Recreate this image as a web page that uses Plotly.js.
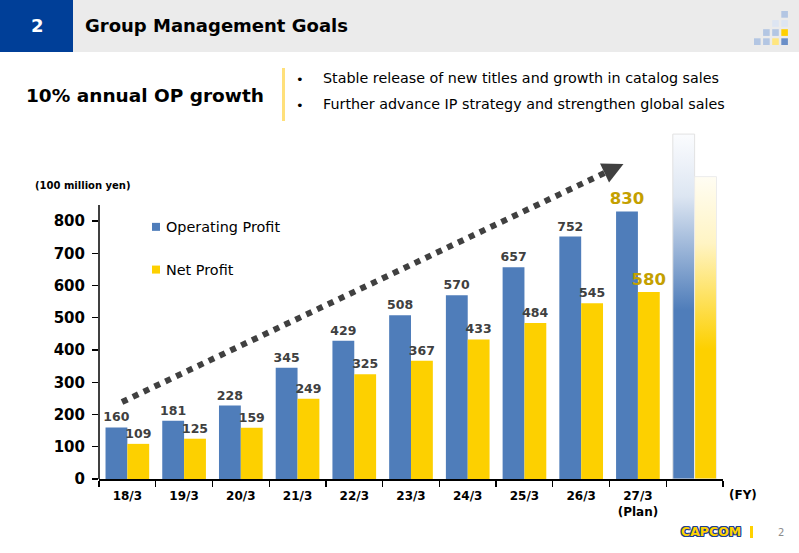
<!DOCTYPE html>
<html>
<head>
<meta charset="utf-8">
<script src="https://cdn.plot.ly/plotly-3.0.1.min.js"></script>
<style>
  html, body { margin: 0; padding: 0; background: #ffffff; }
  #chart { width: 799px; height: 553px; }
</style>
</head>
<body>
<!-- fades used for the outlook column -->
<svg width="0" height="0" style="position:absolute">
  <defs>
    <linearGradient id="fadeBlue" x1="0" y1="0" x2="0" y2="1">
      <stop offset="0" stop-color="#fbfcfe"/>
      <stop offset="0.18" stop-color="#dde6f2"/>
      <stop offset="0.51" stop-color="#4f7dba"/>
      <stop offset="1" stop-color="#4f7dba"/>
    </linearGradient>
    <linearGradient id="fadeYellow" x1="0" y1="0" x2="0" y2="1">
      <stop offset="0" stop-color="#fffdf3"/>
      <stop offset="0.22" stop-color="#fff4c4"/>
      <stop offset="0.57" stop-color="#fdd000"/>
      <stop offset="1" stop-color="#fdd000"/>
    </linearGradient>
  </defs>
</svg>
<div id="chart"></div>
<script>
// Fiscal years (March year-end); the last column is the unlabeled outlook bar
const categories = ['18/3', '19/3', '20/3', '21/3', '22/3', '23/3', '24/3', '25/3', '26/3', '27/3<br>(Plan)'];
const outlookCategory = [' '];
const operatingProfit = [160, 181, 228, 345, 429, 508, 570, 657, 752, 830];
const netProfit = [109, 125, 159, 249, 325, 367, 433, 484, 545, 580];
const outlookOperating = [1070];
const outlookNet = [938];
const yTicks = [0, 100, 200, 300, 400, 500, 600, 700, 800];
const yAxisTop = 850;

const FONT = '"DejaVu Sans", Verdana, sans-serif';
const BLUE = '#4f7dba';
const YELLOW = '#fdd000';
const LABEL = '#404040';
const GOLD = '#c4a000';

// plot area in page pixels; the visible axis stops at yAxisTop (page y 205),
// the area above it leaves room for the outlook column
const M = { l: 99, r: 76, t: 128, b: 74 };
const W = 799, H = 553;
const PW = W - M.l - M.r, PH = H - M.t - M.b;
const AXIS_TOP_PX = 205;
const yRangeTop = yAxisTop * PH / (H - M.b - AXIS_TOP_PX);
const X = px => (px - M.l) / PW;
const Y = py => (H - M.b - py) / PH;

const lastIdx = categories.length - 1;
const labelColors = categories.map((c, i) => i === lastIdx ? GOLD : LABEL);
const labelSizes = categories.map((c, i) => i === lastIdx ? 16.5 : 12.5);

const data = [
  {
    type: 'bar', name: 'Operating Profit', x: categories, y: operatingProfit,
    offsetgroup: 'op', legendgroup: 'op',
    marker: { color: BLUE, line: { width: 0 } },
    texttemplate: '%{y}', textposition: 'outside', cliponaxis: false,
    constraintext: 'none',
    textfont: { family: FONT, size: labelSizes, color: labelColors, weight: 'bold' }
  },
  {
    type: 'bar', name: 'Net Profit', x: categories, y: netProfit,
    offsetgroup: 'np', legendgroup: 'np',
    marker: { color: YELLOW, line: { width: 0 } },
    texttemplate: '%{y}', textposition: 'outside', cliponaxis: false,
    constraintext: 'none',
    textfont: { family: FONT, size: labelSizes, color: labelColors, weight: 'bold' }
  },
  {
    type: 'bar', name: 'outlook-op', x: outlookCategory, y: outlookOperating,
    offsetgroup: 'op', showlegend: false, hoverinfo: 'skip',
    marker: { color: BLUE, line: { width: 1, color: '#e2e2e2' } }
  },
  {
    type: 'bar', name: 'outlook-np', x: outlookCategory, y: outlookNet,
    offsetgroup: 'np', showlegend: false, hoverinfo: 'skip',
    marker: { color: YELLOW, line: { width: 1, color: '#ececec' } }
  }
];

const paperText = (text, px, py, opts) => Object.assign({
  text: text, xref: 'paper', yref: 'paper', x: X(px), y: Y(py),
  xanchor: 'left', yanchor: 'middle', showarrow: false,
  font: { family: FONT, size: 14, color: '#000000' }
}, opts || {});

const annotations = [
  paperText('2', 37, 26, { xanchor: 'center', font: { family: FONT, size: 18, color: '#ffffff', weight: 'bold' } }),
  paperText('Group Management Goals', 83, 26, { font: { family: FONT, size: 18, color: '#000000', weight: 'bold' } }),
  paperText('10% annual OP growth', 24, 96, { font: { family: FONT, size: 18.5, color: '#000000', weight: 'bold' } }),
  paperText('•', 300, 79, { xanchor: 'center', font: { family: FONT, size: 13, color: '#000000' } }),
  paperText('•', 300, 105, { xanchor: 'center', font: { family: FONT, size: 13, color: '#000000' } }),
  paperText('Stable release of new titles and growth in catalog sales', 321, 78, { font: { family: FONT, size: 14.3, color: '#000000' } }),
  paperText('Further advance IP strategy and strengthen global sales', 321, 104, { font: { family: FONT, size: 14.3, color: '#000000' } }),
  paperText('(100 million yen)', 33, 185, { font: { family: FONT, size: 10, color: '#000000', weight: 'bold' } }),
  paperText('(FY)', 743, 495, { xanchor: 'center', font: { family: FONT, size: 12, color: '#000000', weight: 'bold' } }),
  paperText('CAPCOM', 711, 531, {
    xanchor: 'center',
    font: {
      family: FONT, size: 12.5, color: '#ffd200', weight: 'bold',
      shadow: '1px 0 0 #1d3f91, -1px 0 0 #1d3f91, 0 1px 0 #1d3f91, 0 -1px 0 #1d3f91, 1px 1px 0 #1d3f91, -1px -1px 0 #1d3f91, 1px -1px 0 #1d3f91, -1px 1px 0 #1d3f91'
    }
  }),
  paperText('2', 781, 532, { xanchor: 'center', font: { family: FONT, size: 10, color: '#8c8c8c' } })
];

const rect = (x0, y0, x1, y1, color) => ({
  type: 'rect', xref: 'paper', yref: 'paper', layer: 'below',
  x0: X(x0), x1: X(x1), y0: Y(y0), y1: Y(y1),
  fillcolor: color, line: { width: 0 }
});

// header band and decorative square grid
const shapes = [
  rect(0, 0, W, 52, '#ebebeb'),
  rect(0, 0, 73, 52, '#003f98'),
  rect(282, 68, 285, 121, '#ffe07a'),
  rect(750, 526, 753, 538, '#ffd200')
];
const sq = [
  [3, 0, '#b3c6e3'],
  [2, 1, '#dde5f2'], [3, 1, '#dde5f2'],
  [1, 2, '#b3c6e3'], [2, 2, '#b3c6e3'], [3, 2, '#ffd000'],
  [0, 3, '#b3c6e3'], [1, 3, '#b3c6e3'], [2, 3, '#ffe680'], [3, 3, '#6a8fc8']
];
sq.forEach(([c, r, col]) => {
  const x0 = 754 + c * 9.1, y0 = 11 + r * 9.1;
  shapes.push(rect(x0, y0, x0 + 6.6, y0 + 6.7, col));
});

// value axis line, stopping at the top of the labelled scale
shapes.push({
  type: 'line', xref: 'paper', yref: 'y', x0: 0, x1: 0, y0: 0, y1: yAxisTop,
  line: { color: '#000000', width: 1.5 }
});

// dotted growth arrow with a solid head
const tip = [623.5, 164];
const start = [122, 402];
const dx = tip[0] - start[0], dy = tip[1] - start[1];
const len = Math.hypot(dx, dy);
const ux = dx / len, uy = dy / len;
const headLen = 21, headHalf = 10.5;
const base = [tip[0] - ux * headLen, tip[1] - uy * headLen];
const c1 = [base[0] - uy * headHalf, base[1] + ux * headHalf];
const c2 = [base[0] + uy * headHalf, base[1] - ux * headHalf];
shapes.push({
  type: 'line', xref: 'paper', yref: 'paper',
  x0: X(start[0]), y0: Y(start[1]), x1: X(base[0] + ux * 2), y1: Y(base[1] + uy * 2),
  line: { color: '#404040', width: 6, dash: 'dot' }
});
shapes.push({
  type: 'path', xref: 'paper', yref: 'paper',
  path: `M${X(tip[0])},${Y(tip[1])} L${X(c1[0])},${Y(c1[1])} L${X(c2[0])},${Y(c2[1])} Z`,
  fillcolor: '#404040', line: { width: 0 }
});

const layout = {
  width: W, height: H,
  margin: M,
  paper_bgcolor: '#ffffff', plot_bgcolor: '#ffffff',
  font: { family: FONT, color: '#000000' },
  barmode: 'group', bargap: 0.23, bargroupgap: 0,
  showlegend: true,
  legend: {
    x: X(126), y: Y(211), xanchor: 'left', yanchor: 'top',
    orientation: 'v', tracegroupgap: 21, bgcolor: 'rgba(0,0,0,0)',
    font: { family: FONT, size: 14.4, color: '#000000' }
  },
  xaxis: {
    type: 'category', categoryorder: 'array', categoryarray: categories.concat(outlookCategory),
    tickson: 'boundaries', ticks: 'outside', ticklen: 6, tickwidth: 1.3, tickcolor: '#000000',
    showline: true, linecolor: '#000000', linewidth: 1.5, showgrid: false, zeroline: false,
    tickfont: { family: FONT, size: 12, color: '#000000', weight: 'bold' },
    ticklabelstandoff: 5, fixedrange: true
  },
  yaxis: {
    range: [0, yRangeTop], tickvals: yTicks, ticktext: yTicks.map(String),
    ticks: 'outside', ticklen: 6, tickwidth: 1.3, tickcolor: '#000000',
    showline: false, showgrid: false, zeroline: false,
    tickfont: { family: FONT, size: 15, color: '#000000', weight: 'bold' },
    ticklabelstandoff: 4, fixedrange: true
  },
  annotations: annotations,
  shapes: shapes
};

const gd = document.getElementById('chart');
Plotly.newPlot(gd, data, layout, { staticPlot: true, displayModeBar: false }).then(() => {
  const groups = gd.querySelectorAll('.barlayer .trace');
  if (groups[2]) groups[2].querySelectorAll('path').forEach(p => { p.style.fill = 'url(#fadeBlue)'; });
  if (groups[3]) groups[3].querySelectorAll('path').forEach(p => { p.style.fill = 'url(#fadeYellow)'; });
  // smaller legend swatches sitting close to their labels
  gd.querySelectorAll('.legend .legendpoints path').forEach(p => {
    p.setAttribute('d', 'M14,4H6V-4H14Z');
  });
});
</script>
</body>
</html>
